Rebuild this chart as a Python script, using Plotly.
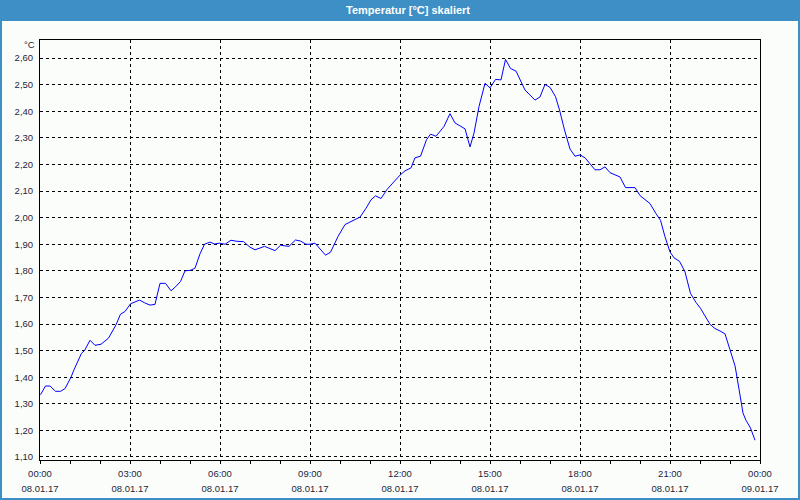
import plotly.graph_objects as go
import pandas as pd

# minutes after 08.01.17 00:00
minutes = [1, 11, 20, 31, 41, 50, 62, 68, 83, 89, 100, 110, 122, 137, 152, 161, 170, 181, 190, 199,
           209, 220, 230, 240, 251, 262, 271, 281, 290, 301, 310, 320, 329, 340, 349, 359,
           370, 382, 394, 407, 420, 430, 449, 460, 470, 481, 498, 511, 521, 532, 540, 550, 560, 571,
           581, 596, 610, 623, 640, 652, 662, 671, 682, 694, 707, 720,
           730, 742, 750, 761, 773, 781, 792, 808, 820, 830, 850, 860, 868, 878, 890, 900, 911, 922,
           931, 941, 952, 970, 990, 1000, 1010, 1020, 1031, 1039, 1049, 1060, 1070, 1080,
           1090, 1100, 1110, 1120, 1130, 1140, 1160, 1171, 1190, 1200, 1220, 1232, 1241, 1250, 1260,
           1268, 1279, 1290, 1301, 1312, 1321, 1340, 1350, 1360, 1370, 1380, 1390, 1394, 1402, 1406,
           1412, 1421, 1430]
temps = [1.334, 1.367, 1.367, 1.347, 1.347, 1.357, 1.400, 1.428, 1.490, 1.500, 1.539, 1.520, 1.524,
         1.547, 1.597, 1.637, 1.647, 1.676, 1.683, 1.690, 1.680, 1.671, 1.674, 1.753, 1.753, 1.725,
         1.740, 1.760, 1.800, 1.802, 1.810, 1.864, 1.900, 1.908, 1.901, 1.904,
         1.900, 1.915, 1.911, 1.910, 1.889, 1.879, 1.892, 1.884, 1.876, 1.896, 1.892, 1.916, 1.912,
         1.900, 1.900, 1.904, 1.881, 1.859, 1.870, 1.929, 1.974, 1.985, 2.002, 2.035, 2.067, 2.082,
         2.072, 2.106, 2.135, 2.160,
         2.176, 2.187, 2.225, 2.231, 2.293, 2.314, 2.306, 2.343, 2.391, 2.356, 2.334, 2.266, 2.318,
         2.418, 2.505, 2.488, 2.520, 2.518, 2.595, 2.561, 2.551, 2.480, 2.442, 2.454, 2.501, 2.490,
         2.455, 2.405, 2.330, 2.258, 2.231, 2.236,
         2.225, 2.203, 2.180, 2.180, 2.191, 2.169, 2.153, 2.113, 2.113, 2.083, 2.053, 2.015, 1.990,
         1.928, 1.871, 1.849, 1.836, 1.796, 1.715, 1.681, 1.659, 1.599, 1.583, 1.574, 1.563, 1.503,
         1.443, 1.400, 1.315, 1.265, 1.238, 1.209, 1.163]

title_text = "Temperatur [°C] skaliert"
y_ticks = [1.1 + 0.1 * i for i in range(16)]
y_labels = [f"{v:.2f}".replace(".", ",") for v in y_ticks]

start = pd.Timestamp("2017-01-08 00:00")
times = [start + pd.Timedelta(minutes=m) for m in minutes]
x_range = [start, start + pd.Timedelta(hours=24)]

font_family = "Liberation Sans"
label_color = "#1e1e3c"
blue_frame = "#3d8fc6"
bg = "#fbfdfb"

fig = go.Figure()
fig.add_trace(go.Scatter(x=times, y=temps, mode="lines",
                         line=dict(color="#0000ff", width=1), hoverinfo="skip",
                         showlegend=False))
fig.add_trace(go.Scatter(x=times, y=temps, mode="lines", xaxis="x2",
                         line=dict(color="rgba(0,0,0,0)", width=0), hoverinfo="skip",
                         showlegend=False))

W, H = 800, 500
ml, mr, mt, mb = 40, 40, 40, 40
pw, ph = W - ml - mr, H - mt - mb

def px_x(p):
    return (p - ml) / pw

def px_y(p):
    return (H - mb - p) / ph

fig.update_layout(
    width=W, height=H,
    margin=dict(l=ml, r=mr, t=mt, b=mb, autoexpand=False),
    paper_bgcolor=bg, plot_bgcolor=bg,
    font=dict(family=font_family, size=9.5, color=label_color),
    xaxis=dict(range=x_range, type="date", dtick=3 * 3600 * 1000, tick0=start,
               tickformat="%H:%M", ticks="outside", ticklen=3, tickcolor="black",
               showline=True, linecolor="black", linewidth=1, mirror=True,
               showgrid=True, gridcolor="black", griddash="3px,3px", gridwidth=1,
               zeroline=False, ticklabelstandoff=2, automargin=False,
               minor=dict(dtick=3600 * 1000, tick0=start, ticks="outside", ticklen=3,
                          tickcolor="black", showgrid=False)),
    xaxis2=dict(range=x_range, type="date", overlaying="x", anchor="y", side="bottom",
                dtick=3 * 3600 * 1000, tick0=start, tickformat="%d.%m.%y",
                ticks="", showline=False, showgrid=False, zeroline=False,
                ticklabelstandoff=21, automargin=False),
    yaxis=dict(range=[1.0887, 2.668], tickvals=y_ticks, ticktext=y_labels,
               ticks="", showline=True, linecolor="black", linewidth=1, mirror=True,
               showgrid=True, gridcolor="black", griddash="3px,3px", gridwidth=1,
               zeroline=False, ticklabelstandoff=4, automargin=False),
    shapes=[
        dict(type="rect", xref="paper", yref="paper",
             x0=px_x(0), x1=px_x(W), y0=px_y(21), y1=px_y(0),
             fillcolor=blue_frame, line=dict(width=0), layer="above"),
        dict(type="rect", xref="paper", yref="paper",
             x0=px_x(1), x1=px_x(W - 1), y0=px_y(H - 1), y1=px_y(1),
             fillcolor="rgba(0,0,0,0)", line=dict(color=blue_frame, width=2), layer="above"),
    ],
    annotations=[
        dict(text="<b>" + title_text + "</b>", xref="paper", yref="paper",
             x=px_x(408), y=px_y(9.5), xanchor="center", yanchor="middle",
             showarrow=False, font=dict(family=font_family, size=11, color="white")),
        dict(text="°C", xref="paper", yref="paper", x=px_x(37), y=px_y(44.5),
             xanchor="right", yanchor="middle", showarrow=False,
             font=dict(family=font_family, size=9.5, color=label_color)),
    ],
)

fig.write_html("out.html")
